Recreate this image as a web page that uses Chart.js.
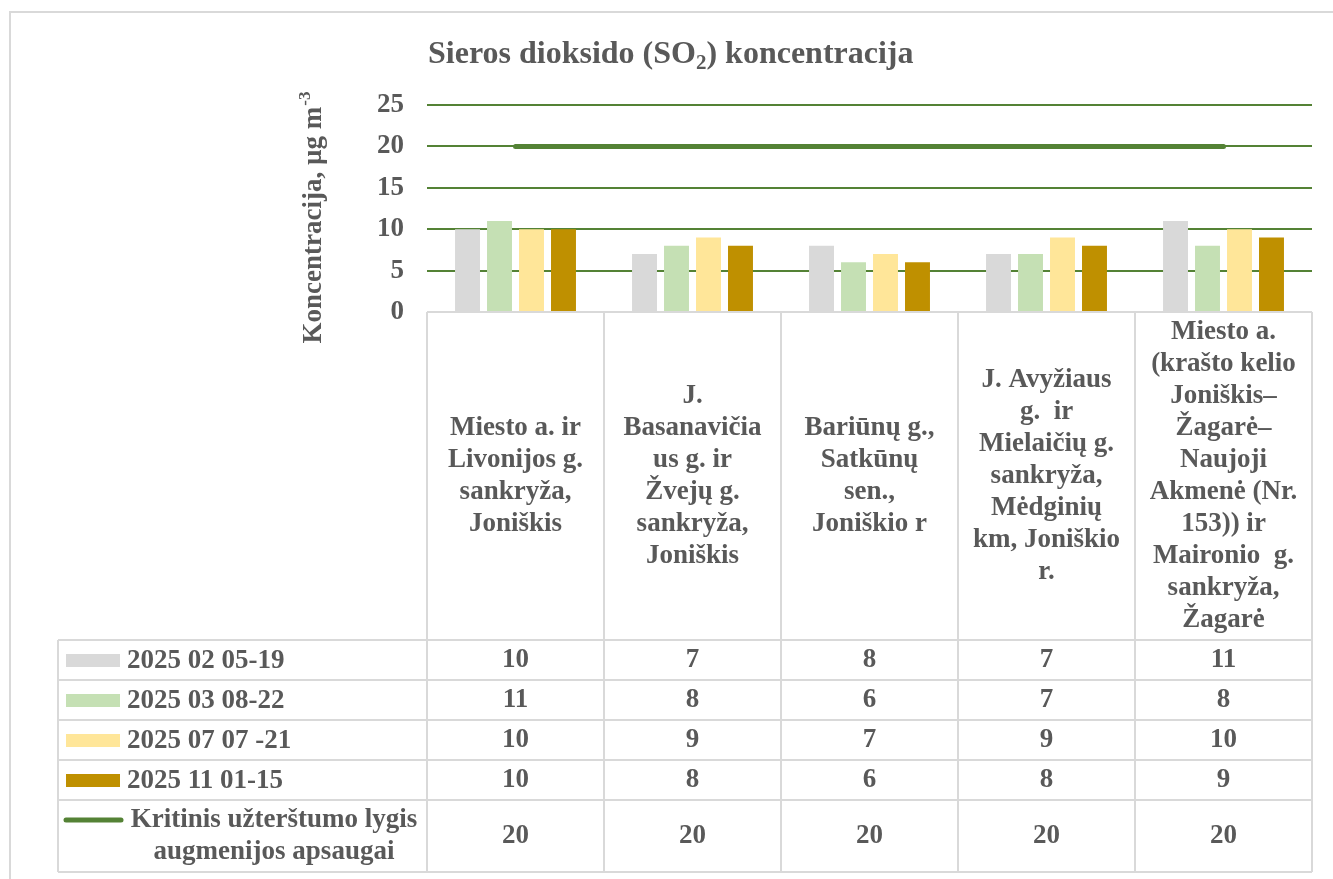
<!DOCTYPE html>
<html lang="lt">
<head>
<meta charset="utf-8">
<title>Sieros dioksido (SO2) koncentracija</title>
<script src="https://cdn.jsdelivr.net/npm/chart.js@4.4.1/dist/chart.umd.min.js"></script>
<style>
    html, body { margin: 0; padding: 0; background: #ffffff; }
    #wrap { width: 1333px; height: 879px; }
</style>
</head>
<body>
<div id="wrap"><canvas id="so2Chart" width="1333" height="879"></canvas></div>
<script>
// --- Duomenys ---
const categories = [
    ['Miesto a. ir', 'Livonijos g.', 'sankryža,', 'Joniškis'],
    ['J.', 'Basanavičia', 'us g. ir', 'Žvejų g.', 'sankryža,', 'Joniškis'],
    ['Bariūnų g.,', 'Satkūnų', 'sen.,', 'Joniškio r'],
    ['J. Avyžiaus', 'g.  ir', 'Mielaičių g.', 'sankryža,', 'Mėdginių', 'km, Joniškio', 'r.'],
    ['Miesto a.', '(krašto kelio', 'Joniškis–', 'Žagarė–', 'Naujoji', 'Akmenė (Nr.', '153)) ir', 'Maironio  g.', 'sankryža,', 'Žagarė']
];
const seriesNames = ['2025 02 05-19', '2025 03 08-22', '2025 07 07 -21', '2025 11 01-15'];
const feb = [10, 7, 8, 7, 11];
const mar = [11, 8, 6, 7, 8];
const jul = [10, 9, 7, 9, 10];
const nov = [10, 8, 6, 8, 9];
const limitName = ['Kritinis užterštumo lygis', 'augmenijos apsaugai'];
const limitValues = [20, 20, 20, 20, 20];
const yMax = 25;
const yStep = 5;

const barColors = ['#d9d9d9', '#c5e0b4', '#ffe699', '#bf9000'];
const lineColor = '#548235';
const textColor = '#595959';
const borderColor = '#d9d9d9';
const serif = '"Liberation Serif", "Times New Roman", serif';

// eilučių ribos lentelėje
const rowLines = [640, 680, 720, 760, 800, 872];
const tableLeft = 58;

const tablePlugin = {
    id: 'dataTable',
    afterDraw(chart) {
        const ctx = chart.ctx;
        const area = chart.chartArea;
        const xs = chart.scales.x;
        const colW = (area.right - area.left) / categories.length;
        ctx.save();

        // rėmelis
        ctx.strokeStyle = borderColor;
        ctx.lineWidth = 2;
        ctx.strokeRect(10, 12, 1400, 1000);

        ctx.fillStyle = textColor;
        ctx.textBaseline = 'alphabetic';
        ctx.textAlign = 'left';

        // antraštė su indeksu
        let tx = 428;
        ctx.font = 'bold 32px ' + serif;
        ctx.fillText('Sieros dioksido (SO', tx, 63);
        tx += ctx.measureText('Sieros dioksido (SO').width;
        ctx.font = 'bold 21px ' + serif;
        ctx.fillText('2', tx, 69);
        tx += ctx.measureText('2').width;
        ctx.font = 'bold 32px ' + serif;
        ctx.fillText(') koncentracija', tx, 63);

        // Y ašies pavadinimas
        ctx.save();
        ctx.translate(321, 218);
        ctx.rotate(-Math.PI / 2);
        ctx.font = 'bold 27px ' + serif;
        const mainT = 'Koncentracija, µg m';
        const wMain = ctx.measureText(mainT).width;
        ctx.font = 'bold 17px ' + serif;
        const wSup = ctx.measureText('-3').width;
        const start = -(wMain + wSup) / 2;
        ctx.font = 'bold 27px ' + serif;
        ctx.fillText(mainT, start, 0);
        ctx.font = 'bold 17px ' + serif;
        ctx.fillText('-3', start + wMain + 1, -11);
        ctx.restore();

        // lentelės linijos
        ctx.beginPath();
        ctx.moveTo(area.left, area.bottom);
        ctx.lineTo(area.right, area.bottom);
        rowLines.forEach(y => {
            ctx.moveTo(tableLeft, y);
            ctx.lineTo(area.right, y);
        });
        ctx.moveTo(tableLeft, rowLines[0]);
        ctx.lineTo(tableLeft, rowLines[rowLines.length - 1]);
        for (let i = 0; i <= categories.length; i++) {
            const x = area.left + i * colW;
            ctx.moveTo(x, area.bottom);
            ctx.lineTo(x, rowLines[rowLines.length - 1]);
        }
        ctx.stroke();

        // kategorijų pavadinimai
        ctx.font = 'bold 27px ' + serif;
        ctx.textAlign = 'center';
        ctx.textBaseline = 'middle';
        const labelMid = (area.bottom + rowLines[0]) / 2;
        categories.forEach((lines, i) => {
            const cx = xs.getPixelForValue(i);
            const y0 = labelMid - (lines.length - 1) * 32 / 2;
            lines.forEach((ln, k) => ctx.fillText(ln, cx, y0 + k * 32));
        });

        // reikšmės
        const datasets = chart.data.datasets;
        datasets.forEach((ds, r) => {
            const cy = (rowLines[r] + rowLines[r + 1]) / 2;
            ds.data.forEach((v, i) => {
                ctx.fillText(String(v), xs.getPixelForValue(i), cy);
            });
        });

        // legenda lentelėje
        ctx.textAlign = 'left';
        seriesNames.forEach((name, r) => {
            const cy = (rowLines[r] + rowLines[r + 1]) / 2;
            ctx.fillStyle = barColors[r];
            ctx.fillRect(66, cy - 6, 54, 13);
            ctx.fillStyle = textColor;
            ctx.fillText(name, 127, cy + 1);
        });
        const r4 = seriesNames.length;
        const cyL = (rowLines[r4] + rowLines[r4 + 1]) / 2;
        ctx.strokeStyle = lineColor;
        ctx.lineWidth = 5;
        ctx.lineCap = 'round';
        ctx.beginPath();
        ctx.moveTo(66, cyL - 16);
        ctx.lineTo(121, cyL - 16);
        ctx.stroke();
        ctx.textAlign = 'center';
        ctx.fillText(limitName[0], 274, cyL - 16);
        ctx.fillText(limitName[1], 274, cyL + 16);

        ctx.restore();
    }
};

const barSets = [feb, mar, jul, nov].map((d, i) => ({
    type: 'bar',
    label: seriesNames[i],
    data: d,
    backgroundColor: barColors[i],
    categoryPercentage: 0.723,
    barPercentage: 0.78,
    order: 2
}));

new Chart(document.getElementById('so2Chart'), {
    type: 'bar',
    data: {
        labels: categories.map(c => c.join(' ')),
        datasets: [
            ...barSets,
            {
                type: 'line',
                label: limitName.join(' '),
                data: limitValues,
                borderColor: lineColor,
                backgroundColor: lineColor,
                borderWidth: 5,
                borderCapStyle: 'round',
                pointRadius: 0,
                fill: false,
                order: 1
            }
        ]
    },
    options: {
        responsive: false,
        animation: false,
        layout: { padding: { top: 105, bottom: 567, left: 0, right: 21 } },
        plugins: {
            legend: { display: false },
            title: { display: false },
            tooltip: { enabled: false }
        },
        scales: {
            x: { display: false },
            y: {
                min: 0,
                max: yMax,
                afterFit: s => { s.width = 427; },
                border: { display: false },
                grid: {
                    drawTicks: false,
                    lineWidth: 2,
                    color: c => (c.tick && c.tick.value === 0) ? borderColor : lineColor
                },
                ticks: {
                    stepSize: yStep,
                    padding: 23,
                    color: textColor,
                    font: { family: serif, size: 27, weight: 'bold' }
                }
            }
        }
    },
    plugins: [tablePlugin]
});
</script>
</body>
</html>
